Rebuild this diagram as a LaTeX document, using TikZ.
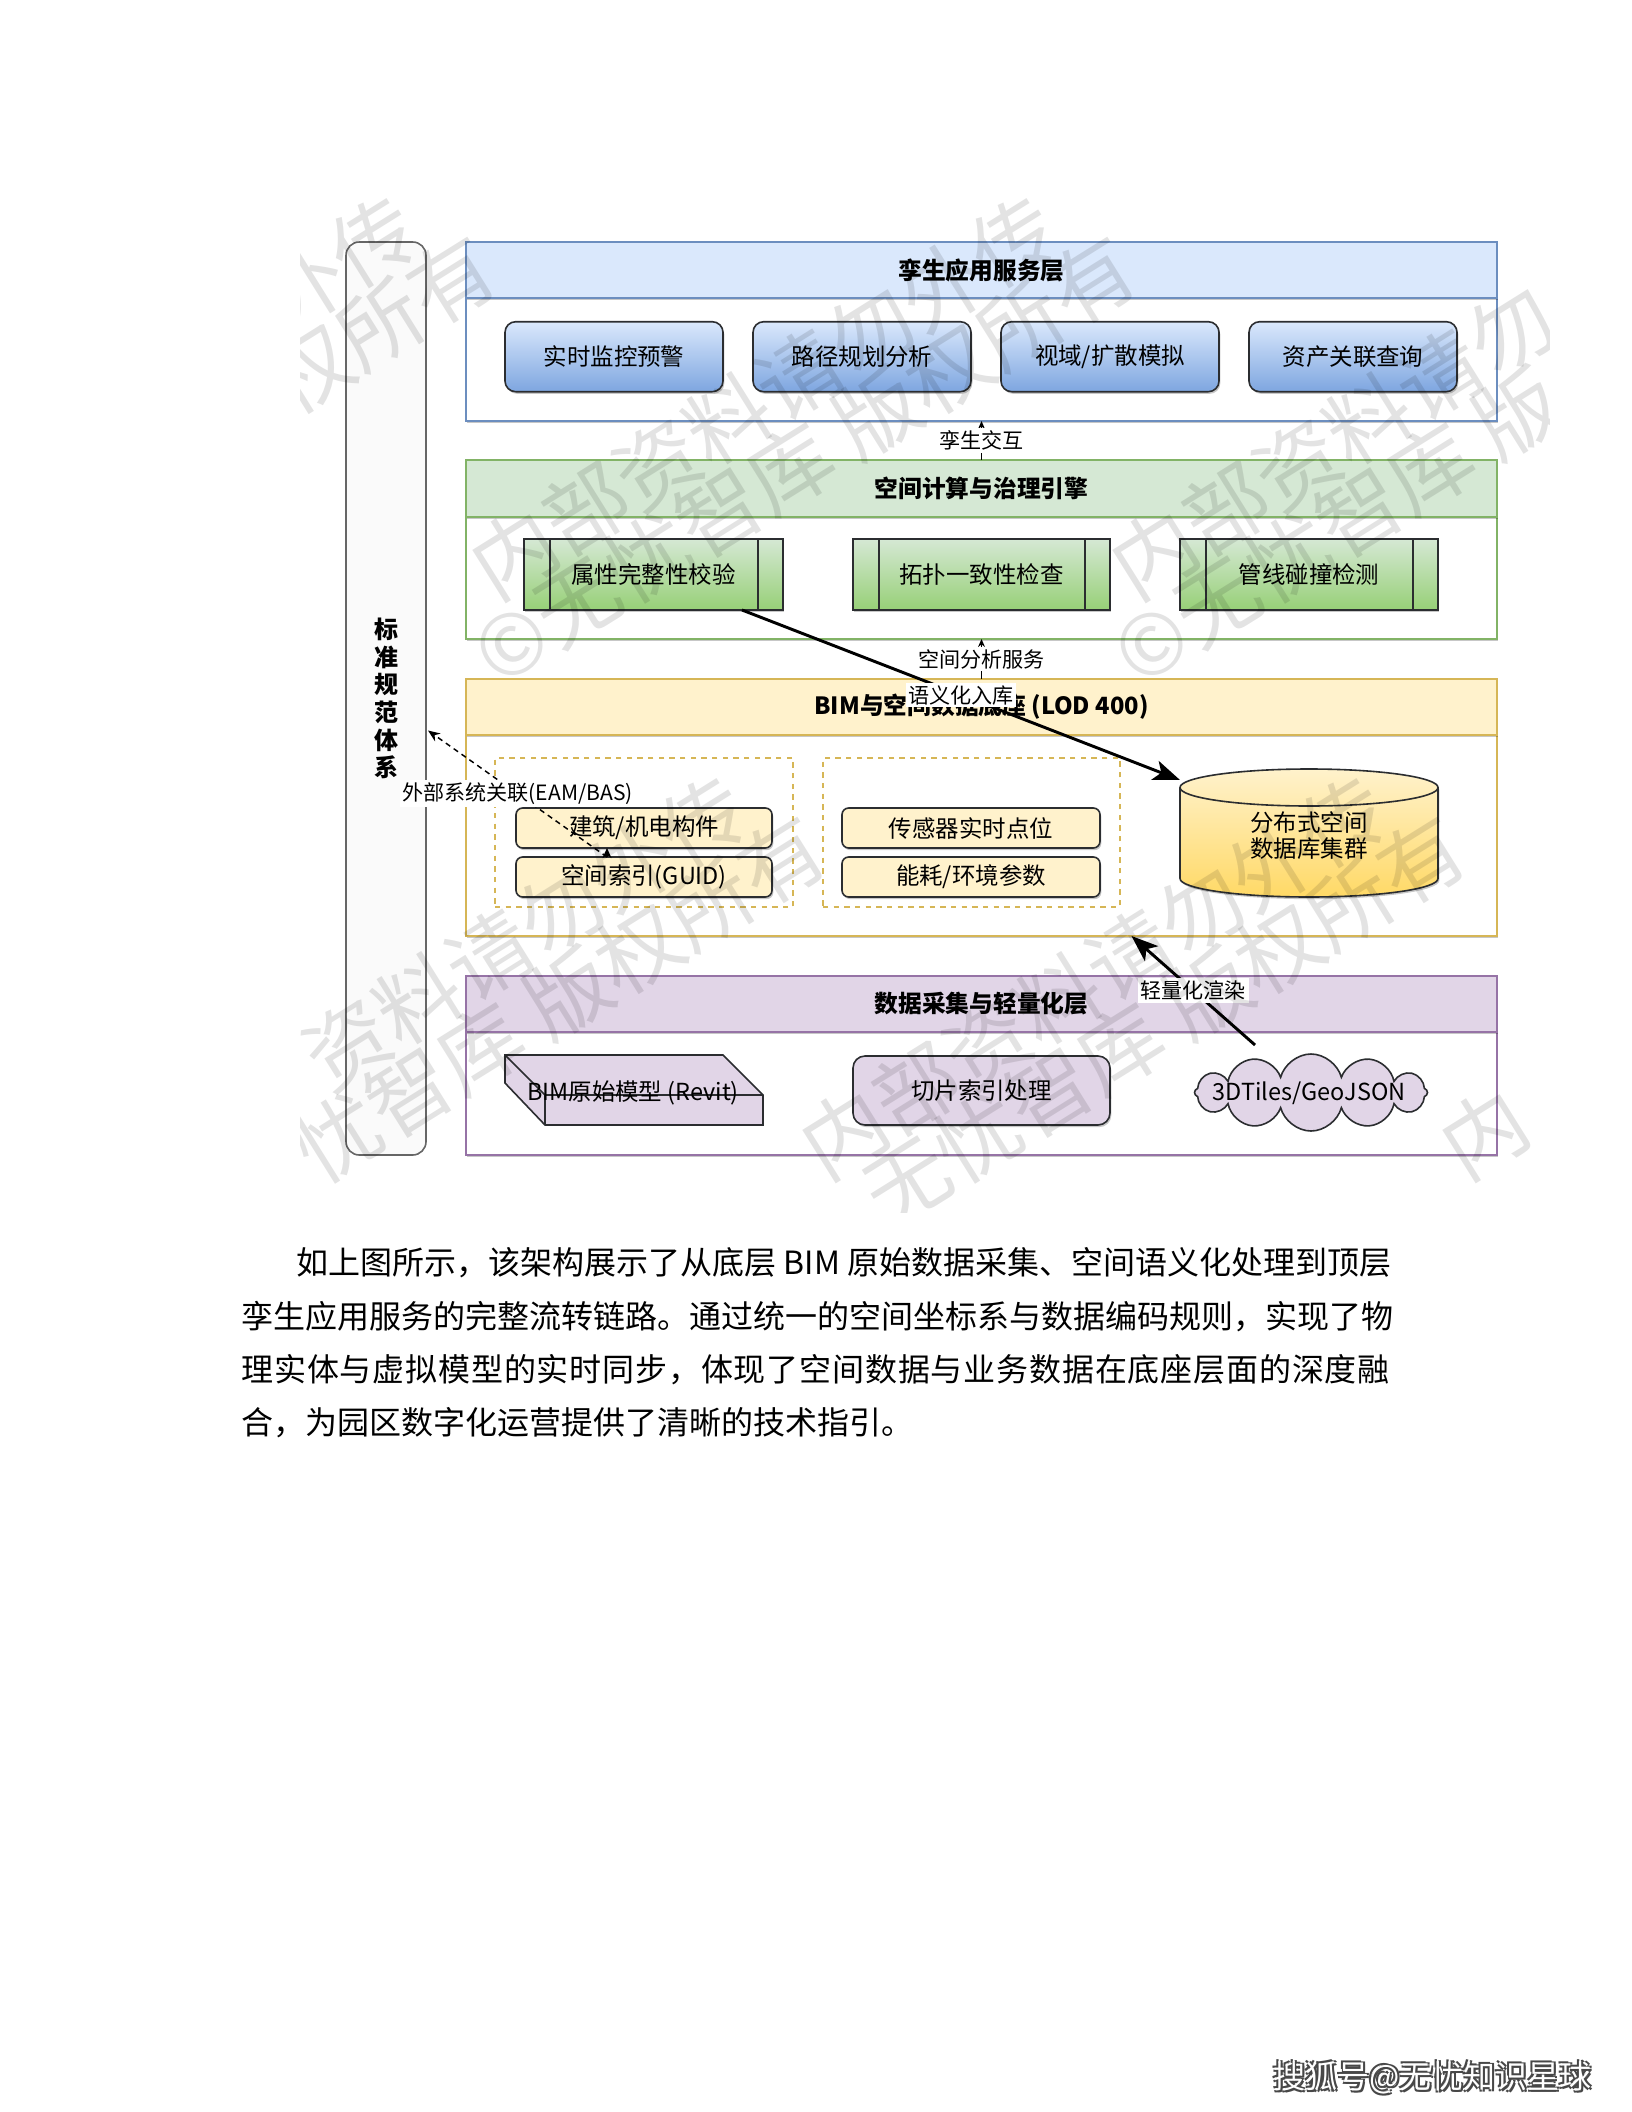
\documentclass[tikz,border=0pt]{standalone}
\usepackage{fontspec}
\setmainfont{Noto Sans CJK SC}
\usetikzlibrary{arrows.meta,calc,shapes.symbols,shadows}
\newcommand\pxu{0.375pt}
\newcommand\dgBox{\fontsize{8.8pt}{10pt}\selectfont}
\newcommand\dgDb{\fontsize{8.8pt}{9.75pt}\selectfont}
\newcommand\dgTitle{\fontsize{8.9pt}{10pt}\selectfont\bfseries}
\newcommand\dgLbl{\fontsize{7.9pt}{9pt}\selectfont}
\newcommand\dgBar{\fontsize{9pt}{10.4pt}\selectfont\bfseries}
\newcommand\dgBody{\fontsize{12pt}{14pt}\selectfont}
\newcommand\dgWm{\fontsize{31.5pt}{32pt}\selectfont}
\newcommand\dgSohu{\fontsize{12pt}{14pt}\selectfont}
\newcommand\sohutext{搜狐号@无忧知识星球}
\definecolor{bluehd}{HTML}{DAE8FC}
\definecolor{blueln}{HTML}{6C8EBF}
\definecolor{bluebot}{HTML}{7EA6E0}
\definecolor{greenhd}{HTML}{D5E8D4}
\definecolor{greenln}{HTML}{82B366}
\definecolor{greenbot}{HTML}{97D077}
\definecolor{yellowhd}{HTML}{FFF2CC}
\definecolor{yellowln}{HTML}{D6B656}
\definecolor{yellowbot}{HTML}{FFD966}
\definecolor{purplehd}{HTML}{E1D5E7}
\definecolor{purpleln}{HTML}{9673A6}
\definecolor{boxln}{HTML}{2B2D30}
\tikzset{
  every node/.style={inner sep=0pt, outer sep=0pt},
  shadowed/.style={drop shadow={shadow xshift=0.5pt, shadow yshift=-0.8pt, opacity=0.22, fill=black}},
  layerframe/.style={draw=#1, line width=0.55pt, fill=white, shadowed},
  layerhead/.style n args={2}{draw=#2, line width=0.55pt, fill=#1, font=\dgTitle, shadowed},
  bluebox/.style={draw=boxln, line width=0.6pt, rounded corners=4pt, top color=bluehd, bottom color=bluebot, font=\dgBox, shadowed},
  greenbox/.style={draw=boxln, line width=0.6pt, top color=greenhd, bottom color=greenbot, font=\dgBox, shadowed},
  yellowbox/.style={draw=boxln, line width=0.6pt, rounded corners=2.5pt, fill=yellowhd, font=\dgBox, shadowed},
  dashbox/.style={draw=yellowln, line width=0.5pt, dash pattern=on 2pt off 2pt},
  purplebox/.style={draw=boxln, line width=0.6pt, rounded corners=4.5pt, fill=purplehd, font=\dgBox, shadowed},
  boxline/.style={draw=boxln, line width=0.6pt},
  lbl/.style={fill=white, font=\dgLbl, inner sep=1pt},
  thinarr/.style={line width=0.45pt, -{Stealth[length=3pt,width=2.6pt]}},
  thickarr/.style={line width=1.1pt, -{Stealth[length=10pt,width=7.5pt,inset=2.5pt]}},
  dasharr/.style={line width=0.55pt, dash pattern=on 2pt off 1.6pt, -{Stealth[length=4.5pt,width=3.6pt]}},
  wmark/.style={rotate=32, anchor=west, font=\dgWm, text=black, text opacity=0.11},
  sohushadow/.style={font=\dgSohu, text=black!72, anchor=west},
}
\begin{document}
\begin{tikzpicture}[x=0.375pt, y=-0.375pt]
\useasboundingbox (0,0) rectangle (1632,2112);
\fill[white] (0,0) rectangle (1632,2112);

% left standard bar
\node[draw=black!60, fill=black!2, rounded corners=5pt, line width=0.6pt, minimum width=80*\pxu, minimum height=913*\pxu] (bar) at (386,698.5) {};
\node[font=\dgBar, align=center] (bartxt) at (bar.center) {标\\准\\规\\范\\体\\系};

% layer 1 blue
\node[layerframe=blueln, minimum width=1031*\pxu, minimum height=179*\pxu] (Lblue) at (981.5,331.5) {};
\node[layerhead={bluehd}{blueln}, minimum width=1031*\pxu, minimum height=56*\pxu] (Hblue) at (981.5,270) {孪生应用服务层};
\node[bluebox, minimum width=218*\pxu, minimum height=70*\pxu] (b1) at (614,356.7) {实时监控预警};
\node[bluebox, minimum width=218*\pxu, minimum height=70*\pxu] (b2) at (862,356.7) {路径规划分析};
\node[bluebox, minimum width=218*\pxu, minimum height=70*\pxu] (b3) at (1110,356.7) {视域/扩散模拟};
\node[bluebox, minimum width=208*\pxu, minimum height=70*\pxu] (b4) at (1353,356.7) {资产关联查询};

% layer 2 green
\node[layerframe=greenln, minimum width=1031*\pxu, minimum height=179*\pxu] (Lgreen) at (981.5,549.5) {};
\node[layerhead={greenhd}{greenln}, minimum width=1031*\pxu, minimum height=57*\pxu] (Hgreen) at (981.5,488.5) {空间计算与治理引擎};
\node[greenbox, minimum width=259*\pxu, minimum height=71*\pxu] (g1) at (653.5,574.5) {属性完整性校验};
\node[greenbox, minimum width=257*\pxu, minimum height=71*\pxu] (g2) at (981.5,574.5) {拓扑一致性检查};
\node[greenbox, minimum width=258*\pxu, minimum height=71*\pxu] (g3) at (1309,574.5) {管线碰撞检测};
\foreach \n in {g1,g2,g3}{
  \draw[boxline] ($(\n.north west)+(26,0)$) -- ($(\n.south west)+(26,0)$);
  \draw[boxline] ($(\n.north east)+(-25,0)$) -- ($(\n.south east)+(-25,0)$);
}

% layer 3 yellow
\node[layerframe=yellowln, minimum width=1031*\pxu, minimum height=257*\pxu] (Lyellow) at (981.5,807.5) {};
\node[layerhead={yellowhd}{yellowln}, minimum width=1031*\pxu, minimum height=56*\pxu] (Hyellow) at (981.5,707) {BIM与空间数据底座 (LOD 400)};
\node[dashbox, minimum width=298*\pxu, minimum height=149*\pxu] (c1) at (644,832.5) {};
\node[dashbox, minimum width=297*\pxu, minimum height=149*\pxu] (c2) at (971.5,832.5) {};
\node[yellowbox, minimum width=256*\pxu, minimum height=40*\pxu] (bld) at (644,828) {建筑/机电构件};
\node[yellowbox, minimum width=256*\pxu, minimum height=40*\pxu] (sidx) at (644,877) {空间索引(GUID)};
\node[yellowbox, minimum width=258*\pxu, minimum height=40*\pxu] (sens) at (971,828) {传感器实时点位};
\node[yellowbox, minimum width=258*\pxu, minimum height=40*\pxu] (energy) at (971,877) {能耗/环境参数};
% database cylinder
\node[minimum width=258*\pxu, minimum height=128*\pxu] (db) at (1309,833) {};
\draw[top color=yellowhd, bottom color=yellowbot, draw=boxln, line width=0.6pt, shadowed]
  (1180,787.5) -- (1180,878.5) arc[start angle=180, end angle=0, x radius=129, y radius=18.5]
  -- (1438,787.5) arc[start angle=0, end angle=-180, x radius=129, y radius=18.5] -- cycle;
\draw[boxline] (1180,787.5) arc[start angle=180, end angle=0, x radius=129, y radius=18.5];
\node[font=\dgDb, align=center] (dbtxt) at (1309,836) {分布式空间\\数据库集群};

% layer 4 purple
\node[layerframe=purpleln, minimum width=1031*\pxu, minimum height=179*\pxu] (Lpurple) at (981.5,1065.5) {};
\node[layerhead={purplehd}{purpleln}, minimum width=1031*\pxu, minimum height=56*\pxu] (Hpurple) at (981.5,1004) {数据采集与轻量化层};
\draw[boxline, fill=purplehd] (505,1055) -- (723,1055) -- (763,1095) -- (763,1125) -- (545,1125) -- (505,1083) -- cycle;
\draw[boxline] (505,1055) -- (545,1095) -- (763,1095);
\draw[boxline] (545,1095) -- (545,1125);
\node[font=\dgBox] (bim) at (633,1093) {BIM原始模型 (Revit)};
\node[purplebox, minimum width=257*\pxu, minimum height=69*\pxu] (tile) at (981.5,1090.5) {切片索引处理};
\node[cloud, cloud puffs=12, aspect=3, draw=boxln, line width=0.6pt, fill=purplehd, minimum width=233*\pxu, minimum height=77*\pxu] (cloud) at (1311,1092.5) {};
\node[font=\dgBox] (cloudtxt) at (1309,1093) {3DTiles/GeoJSON};

% connectors
\draw[thinarr] (Lgreen.north) -- (Lblue.south) node[lbl, midway] (e1) {孪生交互};
\draw[thinarr] (Lyellow.north) -- (Lgreen.south) node[lbl, midway] (e2) {空间分析服务};
\draw[thickarr] ($(g1.south east)+(-41,0)$) -- ($(db.north west)+(0,11)$) node[lbl, midway] (e3) {语义化入库};
\draw[dasharr] ($(sidx.north)+(-37,0)$) -- ($(bar.east)+(2,32)$) node[lbl, midway] (e4) {外部系统关联(EAM/BAS)};
\draw[line width=0.5pt, -{Stealth[length=3.8pt,width=3.4pt]}] ($(sidx.north)+(-37,0)$) -- ($(bld.south)+(-37,0)$);
\draw[thickarr] ($(cloud.north)+(-56,-9)$) -- ($(Lyellow.south)+(150,0)$) node[lbl, midway] (e5) {轻量化渲染};

% watermark overlay
\begin{scope}
\clip (300,188) rectangle (1549,1212);
\node[wmark] (w1a) at (-161,575) {\phantom{内部资料请勿}外传};
\node[wmark] (w1b) at (-158,661) {\phantom{©无忧智库 版}权所有};
\node[wmark] (w2a) at (479,575) {内部资料请勿外传};
\node[wmark] (w2b) at (482,661) {©无忧智库 版权所有};
\node[wmark] (w3a) at (1119,575) {内部资料请勿\phantom{外传}};
\node[wmark] (w3b) at (1122,661) {©无忧智库 版\phantom{权所有}};
\node[wmark] (w4a) at (169,1155) {\phantom{内部}资料请勿外传};
\node[wmark] (w4b) at (172,1241) {\phantom{©无}忧智库 版权所有};
\node[wmark] (w5a) at (809,1155) {内部资料请勿外传};
\node[wmark] (w5b) at (812,1241) {\phantom{©}无忧智库 版权所有};
\node[wmark] (w6a) at (1449,1155) {内\phantom{部资料请勿外传}};
\end{scope}

% body text
\node[font=\dgBody, anchor=west] (p1) at (296.5,1263) {如上图所示，该架构展示了从底层 BIM 原始数据采集、空间语义化处理到顶层};
\node[font=\dgBody, anchor=west] (p2) at (241.4,1316.5) {孪生应用服务的完整流转链路。通过统一的空间坐标系与数据编码规则，实现了物};
\node[font=\dgBody, anchor=west] (p3) at (241.4,1370) {\addfontfeature{LetterSpace=2.6}理实体与虚拟模型的实时同步，体现了空间数据与业务数据在底座层面的深度融};
\node[font=\dgBody, anchor=west] (p4) at (241.4,1423) {合，为园区数字化运营提供了清晰的技术指引。};

% source mark
\node[sohushadow] (sohu1) at (1275,2080) {\sohutext};
\node[sohushadow] (sohu2) at (1272,2080) {\sohutext};
\node[sohushadow] (sohu3) at (1275,2077) {\sohutext};
\node[sohushadow] (sohu4) at (1271,2076) {\sohutext};
\node[font=\dgSohu, text=white, anchor=west] (sohu) at (1273,2078) {\sohutext};
\end{tikzpicture}
\end{document}
